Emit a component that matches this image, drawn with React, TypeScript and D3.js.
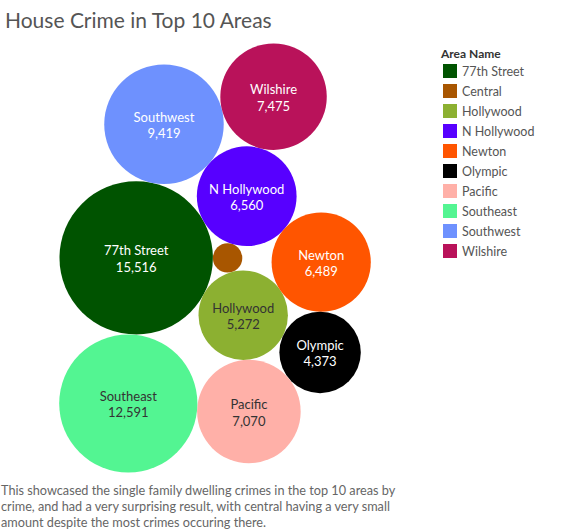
import React, { useRef, useEffect } from "react";
import * as d3 from "d3";

// data (Central has no label, value estimated from its size)
const areas = [
  "77th Street",
  "Central",
  "Hollywood",
  "N Hollywood",
  "Newton",
  "Olympic",
  "Pacific",
  "Southeast",
  "Southwest",
  "Wilshire",
];
const crimes = [15516, 570, 5272, 6560, 6489, 4373, 7070, 12591, 9419, 7475];
const showLabel = [true, false, true, true, true, true, true, true, true, true];
const colors = [
  "#005300",
  "#a85600",
  "#8cb031",
  "#5700ff",
  "#ff5500",
  "#000000",
  "#ffb0a8",
  "#53f592",
  "#6e91fe",
  "#b9125a",
];
const darkText = ["Hollywood", "Pacific", "Southeast"];

const title = "House Crime in Top 10 Areas";
const caption = [
  "This showcased the single family dwelling crimes in the top 10 areas by",
  "crime, and had a very surprising result, with central having a very small",
  "amount despite the most crimes occuring there.",
];

const W = 580;
const H = 532;
const FONT = "Lato, 'Open Sans', sans-serif";
// pane the bubbles have to fit in
const pane = { left: 20, right: 410, top: 38, bottom: 478 };

type Bubble = { name: string; value: number; r: number; x: number; y: number; i: number };
type Link = { _: Bubble; next: Link; previous: Link };

// tangent placement, same maths as d3-hierarchy's pack
function place(b: Bubble, a: Bubble, c: Bubble) {
  const dx = b.x - a.x;
  const dy = b.y - a.y;
  const d2 = dx * dx + dy * dy;
  let a2 = a.r + c.r;
  a2 *= a2;
  let b2 = b.r + c.r;
  b2 *= b2;
  if (a2 > b2) {
    const x = (d2 + b2 - a2) / (2 * d2);
    const y = Math.sqrt(Math.max(0, b2 / d2 - x * x));
    c.x = b.x - x * dx - y * dy;
    c.y = b.y - x * dy + y * dx;
  } else {
    const x = (d2 + a2 - b2) / (2 * d2);
    const y = Math.sqrt(Math.max(0, a2 / d2 - x * x));
    c.x = a.x + x * dx - y * dy;
    c.y = a.y + x * dy + y * dx;
  }
}

function intersects(a: Bubble, b: Bubble) {
  const dr = a.r + b.r - 1e-6;
  const dx = b.x - a.x;
  const dy = b.y - a.y;
  return dr > 0 && dr * dr > dx * dx + dy * dy;
}

function extent(list: Bubble[]) {
  return {
    x0: d3.min(list, (d) => d.x - d.r) as number,
    x1: d3.max(list, (d) => d.x + d.r) as number,
    y0: d3.min(list, (d) => d.y - d.r) as number,
    y1: d3.max(list, (d) => d.y + d.r) as number,
  };
}

// front-chain packing that keeps going round the chain and skips
// spots that would make the cluster too big for the pane
function packBubbles(nodes: Bubble[], maxW: number, maxH: number) {
  const n = nodes.length;
  if (!n) return;
  const A = nodes[0];
  A.x = 0;
  A.y = 0;
  if (n === 1) return;
  const B = nodes[1];
  A.x = -B.r;
  B.x = A.r;
  B.y = 0;
  if (n === 2) return;
  place(B, A, nodes[2]);

  const mk = (d: Bubble) => ({ _: d } as Link);
  let a = mk(A);
  let b = mk(B);
  let c = mk(nodes[2]);
  a.next = c.previous = b;
  b.next = a.previous = c;
  c.next = b.previous = a;
  const placed = [A, B, nodes[2]];

  for (let i = 3; i < n; i++) {
    const node = nodes[i];
    let tries = 0;
    let done = false;
    while (!done) {
      place(a._, b._, node);
      let j = b.next;
      let k = a.previous;
      let sj = b._.r;
      let sk = a._.r;
      let hit = false;
      do {
        if (sj <= sk) {
          if (intersects(j._, node)) {
            b = j;
            a.next = b;
            b.previous = a;
            hit = true;
            break;
          }
          sj += j._.r;
          j = j.next;
        } else {
          if (intersects(k._, node)) {
            a = k;
            a.next = b;
            b.previous = a;
            hit = true;
            break;
          }
          sk += k._.r;
          k = k.previous;
        }
      } while (j !== k.next);
      if (hit) continue;

      const e = extent([...placed, node]);
      const fits = e.x1 - e.x0 <= maxW && e.y1 - e.y0 <= maxH;
      if (!fits && tries < n) {
        tries++;
        a = b;
        b = b.next;
        continue;
      }
      c = mk(node);
      c.previous = a;
      c.next = b;
      a.next = c;
      b.previous = c;
      placed.push(node);
      a = c;
      b = c.next;
      done = true;
    }
  }
}

const BubbleChart: React.FC = () => {
  const svgRef = useRef<SVGSVGElement | null>(null);

  useEffect(() => {
    const svg = d3.select(svgRef.current);
    svg.selectAll("*").remove();

    const rScale = d3
      .scaleSqrt()
      .domain([0, d3.max(crimes) as number])
      .range([0, 76.7]);

    const nodes: Bubble[] = areas.map((name, i) => ({
      name,
      value: crimes[i],
      r: rScale(crimes[i]),
      x: 0,
      y: 0,
      i,
    }));
    packBubbles(nodes, pane.right - pane.left, pane.bottom - pane.top);

    // centre the packed cluster in the pane
    const e = extent(nodes);
    const dx = (pane.left + pane.right) / 2 - (e.x0 + e.x1) / 2;
    const dy = (pane.top + pane.bottom) / 2 - (e.y0 + e.y1) / 2;

    svg.attr("width", W).attr("height", H);

    svg
      .append("text")
      .attr("x", 5)
      .attr("y", 28)
      .attr("font-family", FONT)
      .attr("font-size", 21)
      .attr("fill", "#555")
      .text(title);

    const g = svg.append("g").attr("transform", `translate(${dx},${dy})`);

    const bubble = g
      .selectAll("g.bubble")
      .data(nodes)
      .enter()
      .append("g")
      .attr("class", "bubble")
      .attr("transform", (d) => `translate(${d.x},${d.y})`);

    bubble
      .append("circle")
      .attr("r", (d) => d.r)
      .attr("fill", (d) => colors[d.i]);

    const labelled = bubble.filter((d) => showLabel[d.i]);
    const textFill = (d: Bubble) => (darkText.includes(d.name) ? "#333" : "#fff");

    labelled
      .append("text")
      .attr("y", -2.5)
      .attr("text-anchor", "middle")
      .attr("font-family", FONT)
      .attr("font-size", 13)
      .attr("fill", textFill)
      .text((d) => d.name);

    labelled
      .append("text")
      .attr("y", 14)
      .attr("text-anchor", "middle")
      .attr("font-family", FONT)
      .attr("font-size", 13)
      .attr("fill", textFill)
      .text((d) => d3.format(",")(d.value));

    // Legend
    const legend = svg.append("g").attr("transform", "translate(441,0)");
    legend
      .append("text")
      .attr("x", 0)
      .attr("y", 58)
      .attr("font-family", FONT)
      .attr("font-size", 12)
      .attr("font-weight", "bold")
      .attr("fill", "#333")
      .text("Area Name");

    const item = legend
      .selectAll("g.item")
      .data(areas)
      .enter()
      .append("g")
      .attr("class", "item")
      .attr("transform", (_, i) => `translate(0,${64 + i * 20})`);

    item
      .append("rect")
      .attr("x", 2)
      .attr("width", 14)
      .attr("height", 14)
      .attr("fill", (_, i) => colors[i]);

    item
      .append("text")
      .attr("x", 21)
      .attr("y", 11.5)
      .attr("font-family", FONT)
      .attr("font-size", 12.5)
      .attr("fill", "#555")
      .text((d) => d);

    // Caption
    svg
      .append("g")
      .selectAll("text")
      .data(caption)
      .enter()
      .append("text")
      .attr("x", 1)
      .attr("y", (_, i) => 495 + i * 16)
      .attr("font-family", FONT)
      .attr("font-size", 12.7)
      .attr("fill", "#666")
      .text((d) => d);
  }, []);

  return <svg ref={svgRef} style={{ position: "absolute", left: 0, top: 0 }} />;
};

export default function App() {
  return <BubbleChart />;
}
